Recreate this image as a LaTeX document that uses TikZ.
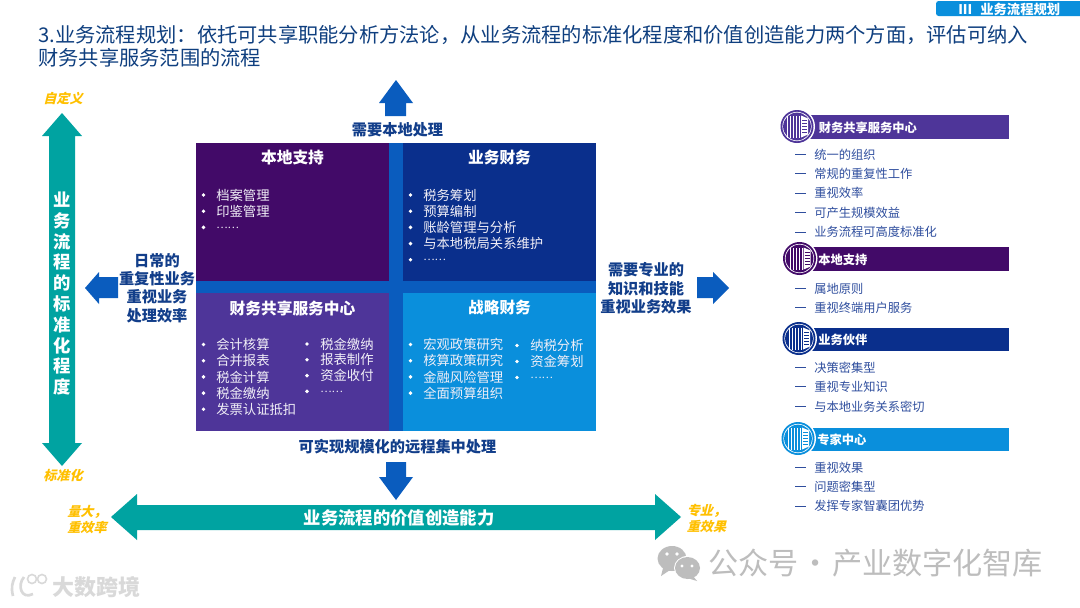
\documentclass[tikz,border=0pt]{standalone}
\usepackage{fontspec}
\setmainfont{Noto Sans CJK SC}
\newfontfamily\slantfont[FakeSlant=0.25]{Noto Sans CJK SC}
\definecolor{cTeal}{HTML}{00A3A1}
\definecolor{cBlue}{HTML}{0A5CBE}
\definecolor{cNavy}{HTML}{123E8A}
\definecolor{cLocal}{HTML}{420A68}
\definecolor{cBiz}{HTML}{0A2F8C}
\definecolor{cShare}{HTML}{4E3599}
\definecolor{cStrat}{HTML}{0A8FDC}
\definecolor{cOrange}{HTML}{FFC000}
\definecolor{cList}{HTML}{2F4E9E}
\definecolor{cTitle}{HTML}{0F3F7F}
\definecolor{cMark}{HTML}{BDBDBD}
\newcommand{\dotsline}{{\fontsize{8}{10}\selectfont\raisebox{-1pt}{……}}}
\tikzset{
  x=0.75pt,y=-0.75pt,
  titletext/.style={anchor=west,inner sep=0,font=\fontsize{15.2}{18}\selectfont,text=cTitle},
  cellhead/.style={inner sep=0,font=\fontsize{11.8}{14}\selectfont\bfseries,text=white},
  celltext/.style={anchor=west,inner sep=0,font=\fontsize{10}{12}\selectfont,text=white!92!cShare},
  celldot/.style={circle,fill=white,inner sep=0,minimum size=2.9pt},
  sidetext/.style={inner sep=0,align=center,font=\fontsize{11.4}{13.8}\selectfont\bfseries,text=cNavy},
  axistext/.style={inner sep=0,font=\fontsize{13}{15}\selectfont\bfseries,text=white},
  endtext/.style={inner sep=0,font=\fontsize{9.8}{12.4}\selectfont\slantfont\bfseries,text=cOrange,align=left},
  bartext/.style={anchor=west,inner sep=0,font=\fontsize{9.2}{11}\selectfont\bfseries,text=white},
  listtext/.style={anchor=west,inner sep=0,font=\fontsize{9.2}{11}\selectfont,text=cList},
  listdash/.style={draw=cList,line width=0.7pt},
  marktext/.style={inner sep=0,anchor=west,font=\fontsize{22.6}{26}\selectfont,text=cMark},
}
% bullet list: prefix, x of dot, x of text, first y, step, items
\newcommand{\blist}[6]{%
  \foreach \t [count=\i from 0] in {#6} {
    \node[celldot] (#1d\i) at (#2,{#4+\i*#5}) {};
    \node[celltext] (#1t\i) at (#3,{#4+\i*#5}) {\t};
  }}
% dash list: prefix, first y, items
\newcommand{\dlist}[3]{%
  \foreach \t [count=\i from 0] in {#3} {
    \coordinate (#1a\i) at (795,{#2+\i*19.4});
    \coordinate (#1b\i) at (806,{#2+\i*19.4});
    \draw[listdash] (#1a\i) -- (#1b\i);
    \node[listtext] (#1t\i) at (814,{#2+\i*19.4}) {\t};
  }}
% side bar with round icon: x, y centre of icon, bar top, bar bottom, colour
\newcommand{\iconbar}[5]{%
  \fill[#5] (#1,#3) rectangle (1009,#4);
  \fill[white] (#1,#2) circle (18);
  \fill[#5] (#1,#2) circle (16.5);
  \fill[white] (#1,#2) circle (14.6);
  \fill[#5] (#1,#2) circle (13.9);
  \foreach \dx in {-10,-7,-4,-1,2} {
    \fill[white] ({#1+\dx},{#2-11}) rectangle ({#1+\dx+1.3},{#2+11});
  }
  \fill[white] ({#1+4},{#2-11}) -- ({#1+11},{#2-8}) -- ({#1+11},{#2+8}) -- ({#1+4},{#2+11}) -- cycle;
  \foreach \dy in {-6,-3,0,3,6} {
    \draw[#5,line width=0.5pt] ({#1+5},{#2+\dy}) -- ({#1+10},{#2+\dy});
  }
}
\begin{document}
\begin{tikzpicture}
\useasboundingbox (0,0) rectangle (1080,607);
\fill[white] (0,0) rectangle (1080,607);

% section tag
\fill[cStrat,rounded corners=2pt] (936,1) -- (936,16) -- (1090,16) -- (1090,1) -- cycle;
\node[inner sep=0,anchor=west,font=\fontsize{10}{12}\selectfont\bfseries,text=white] (tag) at (958,9) {III\hspace{6pt}业务流程规划};

% title
\node[titletext] (title1) at (38,35) {3.业务流程规划：依托可共享职能分析方法论，从业务流程的标准化程度和价值创造能力两个方面，评估可纳入};
\node[titletext] (title2) at (38,58) {财务共享服务范围的流程};

% matrix
\fill[cBlue] (196,143) rectangle (596,431);
\fill[cLocal] (196,143) rectangle (389,281);
\fill[cBiz] (403,143) rectangle (596,281);
\fill[cShare] (196,293) rectangle (389,431);
\fill[cStrat] (403,293) rectangle (596,431);

\node[cellhead] (hLocal) at (292.5,158) {本地支持};
\node[cellhead] (hBiz) at (499.5,158) {业务财务};
\node[cellhead] (hShare) at (292.5,308) {财务共享服务中心};
\node[cellhead] (hStrat) at (499.5,308) {战略财务};

\blist{la}{203.5}{216}{195}{16.2}{档案管理,印鉴管理,\dotsline}
\blist{ba}{410.5}{423}{195}{16.2}{税务筹划,预算编制,账龄管理与分析,与本地税局关系维护,\dotsline}
\blist{sa}{203.5}{216}{344.5}{16.2}{会计核算,合并报表,税金计算,税金缴纳,发票认证抵扣}
\blist{sb}{307}{320}{344}{15.8}{税金缴纳,报表制作,资金收付,\dotsline}
\blist{ta}{410.5}{423}{344.5}{16.2}{宏观政策研究,核算政策研究,金融风险管理,全面预算组织}
\blist{tb}{517}{530}{345.5}{16.0}{纳税分析,资金筹划,\dotsline}

% direction arrows
\fill[cBlue] (396,80) -- (413,103) -- (406,103) -- (406,116) -- (385,116) -- (385,103) -- (379,103) -- cycle;
\fill[cBlue] (396,500) -- (413,477) -- (406,477) -- (406,462) -- (386,462) -- (386,477) -- (379,477) -- cycle;
\fill[cBlue] (85,288) -- (99,272) -- (99,277) -- (118,277) -- (118,298) -- (99,298) -- (99,304) -- cycle;
\fill[cBlue] (729,288) -- (713,272) -- (713,277) -- (697,277) -- (697,298) -- (713,298) -- (713,304) -- cycle;

\node[sidetext] (up) at (397.5,130) {需要本地处理};
\node[sidetext] (down) at (397.5,447) {可实现规模化的远程集中处理};
\node[sidetext] (left) at (157,288) {日常的\\重复性业务\\重视业务\\处理效率};
\node[sidetext] (right) at (646,288.5) {需要专业的\\知识和技能\\重视业务效果};

% teal axes
\fill[cTeal] (62,113) -- (82,136) -- (75,136) -- (75,443) -- (82,443) -- (62,466) -- (42,443) -- (49,443) -- (49,136) -- (42,136) -- cycle;
\fill[cTeal] (111,517) -- (137,494) -- (137,505) -- (655,505) -- (655,494) -- (681,517) -- (655,540) -- (655,530) -- (137,530) -- (137,540) -- cycle;
\foreach \t [count=\i from 0] in {业,务,流,程,的,标,准,化,程,度} {
  \node[axistext] (ax\i) at (62,{200+\i*20.8}) {\t};
}
\node[axistext] (hx) at (399,518) {业务流程的价值创造能力};

\node[endtext] (e1) at (63,98) {自定义};
\node[endtext] (e2) at (63,475) {标准化};
\node[endtext] (e3) at (87,519.5) {量大，\\重效率};
\node[endtext] (e4) at (706.5,518.5) {专业，\\重效果};

% right legend
\iconbar{797}{126.5}{115}{139}{cShare}
\iconbar{799.5}{258.5}{247}{271}{cLocal}
\iconbar{799}{338.5}{328}{351}{cBiz}
\iconbar{798}{438.5}{428}{451}{cStrat}
\node[bartext] (b1) at (818.5,128) {财务共享服务中心};
\node[bartext] (b2) at (818,260) {本地支持};
\node[bartext] (b3) at (818,340) {业务伙伴};
\node[bartext] (b4) at (817,440) {专家中心};
\dlist{p}{154.5}{统一的组织,常规的重复性工作,重视效率,可产生规模效益,业务流程可高度标准化}
\dlist{q}{288.5}{属地原则,重视终端用户服务}
\dlist{r}{367.5}{决策密集型,重视专业知识,与本地业务关系密切}
\dlist{s}{467.5}{重视效果,问题密集型,发挥专家智囊团优势}

% watermarks
\fill[cMark] (672,558.5) ellipse (14.5 and 12.5);
\fill[cMark] (663,568) -- (661,576) -- (670,570) -- cycle;
\fill[white] (687.5,568) ellipse (13.5 and 12);
\fill[cMark] (687.5,568) ellipse (12.5 and 11);
\fill[cMark] (693,576) -- (697,581) -- (687,578) -- cycle;
\fill[white] (667,554) circle (1.8) (677,554) circle (1.8) (682,566) circle (1.6) (692,566) circle (1.6);
\node[marktext] (mark) at (708,563) {公众号\makebox[25pt][c]{·}产业数字化智库};
\node[inner sep=0,anchor=west,font=\fontsize{16.5}{20}\selectfont\bfseries,text=white!85!black] (mark2) at (52,587) {大数跨境};
\draw[white!85!black,line width=2pt] (15,577) .. controls (12,583) and (11,588) .. (13,596);
\draw[white!85!black,line width=2pt] (24,577) .. controls (17,585) and (21,600) .. (33,594);
\draw[white!85!black,line width=1.2pt] (32,579) circle (4.5) (42,579) circle (4.5);
\end{tikzpicture}
\end{document}
